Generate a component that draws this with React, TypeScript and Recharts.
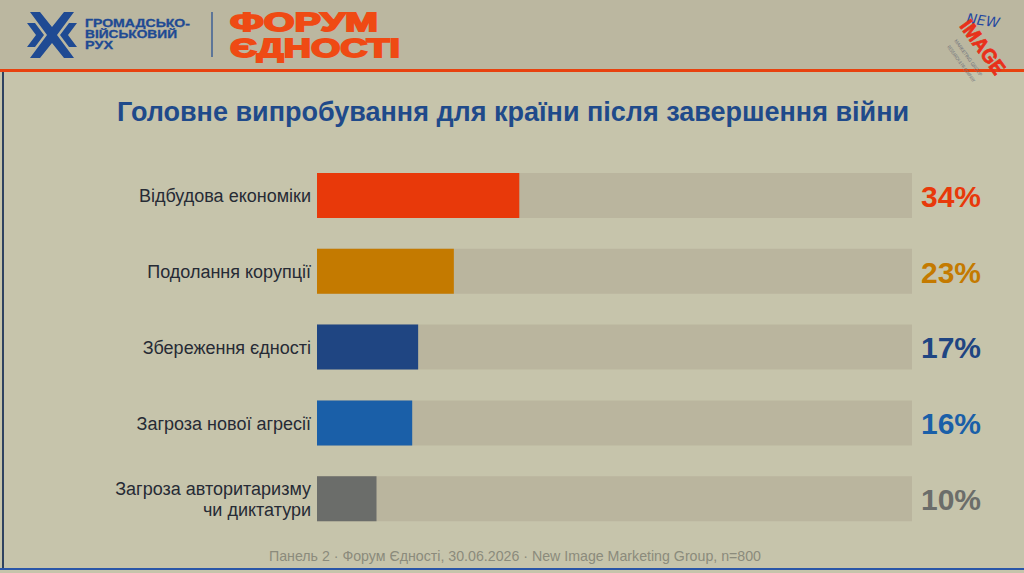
import { BarChart, Bar, XAxis, YAxis, Cell } from "recharts";

// survey answers, share of respondents (%)
const CATEGORIES = [
  "Відбудова економіки",
  "Подолання корупції",
  "Збереження єдності",
  "Загроза нової агресії",
  "Загроза авторитаризму\nчи диктатури",
];
const VALUES = [34, 23, 17, 16, 10];
const BAR_COLORS = ["#e8390a", "#c47a00", "#1f4582", "#1a5fa8", "#6b6d6a"];
const LABEL_COLORS = ["#e8390a", "#c47a00", "#1f4582", "#1a5fa8", "#6b6d6a"];

const TITLE = "Головне випробування для країни після завершення війни";
const FOOTER =
  "Панель 2 · Форум Єдності, 30.06.2026 · New Image Marketing Group, n=800";

const FONT = "'Liberation Sans', Arial, sans-serif";

const data = CATEGORIES.map((name, i) => ({ name, value: VALUES[i] }));

function CategoryTick(props: any) {
  const { x, y, payload } = props;
  const lines = String(payload.value).split("\n");
  const lh = 21;
  const y0 = y - ((lines.length - 1) * lh) / 2;
  return (
    <text textAnchor="end" fill="#262b35" fontSize={18} fontFamily={FONT}>
      {lines.map((l, i) => (
        <tspan key={i} x={x} y={y0 + i * lh} dy="0.36em">
          {l}
        </tspan>
      ))}
    </text>
  );
}

function ValueTick(props: any) {
  const { x, y, payload } = props;
  const i = CATEGORIES.indexOf(payload.value);
  return (
    <text
      x={x}
      y={y}
      dy="0.36em"
      textAnchor="start"
      fill={LABEL_COLORS[i]}
      fontSize={30}
      fontWeight="bold"
      fontFamily={FONT}
    >
      {`${VALUES[i]}%`}
    </text>
  );
}

function Header() {
  return (
    <svg width={1024} height={100} style={{ position: "absolute", left: 0, top: 0 }}>
      <rect x={0} y={0} width={1024} height={69} fill="#bbb7a0" />
      <rect x={0} y={69} width={1024} height={3} fill="#e8420f" />
      {/* emblem */}
      <g fill="#1f4a93">
        <polygon points="30,12 40,12 52,27 64,12 74,12 57,35 74,58 64,58 52,43 40,58 30,58 47,35" />
        <polygon points="27,23 35,23 44,35 35,47 27,47 36,35" />
        <polygon points="77,23 69,23 60,35 69,47 77,47 68,35" />
      </g>
      <g fill="#1f4a93" stroke="#1f4a93" strokeWidth={0.3} fontFamily={FONT} fontWeight="bold" fontSize={10.5}>
        <text x={85} y={27} textLength={105} lengthAdjust="spacingAndGlyphs">ГРОМАДСЬКО-</text>
        <text x={85} y={38} textLength={92} lengthAdjust="spacingAndGlyphs">ВІЙСЬКОВИЙ</text>
        <text x={85} y={49} textLength={28} lengthAdjust="spacingAndGlyphs">РУХ</text>
      </g>
      <line x1={212} y1={12} x2={212} y2={57} stroke="#1f4a93" strokeWidth={1.2} />
      <g
        fill="#ef4a14"
        stroke="#ef4a14"
        strokeWidth={1.8}
        fontFamily={FONT}
        fontWeight="900"
        fontSize={26.5}
      >
        <text x={230} y={31} textLength={148} lengthAdjust="spacingAndGlyphs">ФОРУМ</text>
        <text x={230} y={57} textLength={170} lengthAdjust="spacingAndGlyphs">ЄДНОСТІ</text>
      </g>
      {/* right logo */}
      <text
        x={966}
        y={23}
        fill="#2448a0"
        fontFamily="'DejaVu Sans', sans-serif"
        fontStyle="italic"
        fontSize={14}
        transform="rotate(8 966 23)"
      >
        NEW
      </text>
      <text
        x={959}
        y={26}
        fill="#e8301a"
        stroke="#e8301a"
        strokeWidth={0.8}
        fontFamily={FONT}
        fontWeight="900"
        fontSize={20}
        textLength={62}
        lengthAdjust="spacingAndGlyphs"
        transform="rotate(54 959 26)"
      >
        IMAGE
      </text>
      <text
        x={954}
        y={41}
        fill="#6b6f7a"
        fontFamily={FONT}
        fontSize={5}
        textLength={44}
        lengthAdjust="spacingAndGlyphs"
        transform="rotate(54 954 41)"
      >
        MARKETING GROUP
      </text>
      <text
        x={947}
        y={47}
        fill="#6b6f7a"
        fontFamily={FONT}
        fontSize={5}
        textLength={44}
        lengthAdjust="spacingAndGlyphs"
        transform="rotate(54 947 47)"
      >
        RESEARCH &amp; PR COMPANY
      </text>
    </svg>
  );
}

export default function App() {
  return (
    <div
      style={{
        position: "absolute",
        left: 0,
        top: 0,
        width: 1024,
        height: 573,
        background: "#c6c4ab",
        overflow: "hidden",
        fontFamily: FONT,
      }}
    >
      <Header />
      {/* frame */}
      <div style={{ position: "absolute", left: 2, top: 72, width: 2, height: 498, background: "#2e4260" }} />
      <div style={{ position: "absolute", left: 0, top: 568, width: 1024, height: 2, background: "#2a56a8" }} />

      <div
        style={{
          position: "absolute",
          left: 0,
          top: 97,
          width: 1026,
          textAlign: "center",
          fontSize: 27,
          fontWeight: "bold",
          color: "#1f4a8a",
        }}
      >
        {TITLE}
      </div>

      <div style={{ position: "absolute", left: 0, top: 158 }}>
        <BarChart
          width={1024}
          height={379}
          data={data}
          layout="vertical"
          margin={{ top: 0, right: 0, bottom: 0, left: 0 }}
          barCategoryGap={30}
        >
          <XAxis type="number" domain={[0, 100]} hide />
          <YAxis
            yAxisId="left"
            type="category"
            dataKey="name"
            width={317}
            axisLine={false}
            tickLine={false}
            tickSize={0}
            tickMargin={6}
            tick={<CategoryTick />}
            interval={0}
          />
          <YAxis
            yAxisId="right"
            orientation="right"
            type="category"
            dataKey="name"
            width={112}
            axisLine={false}
            tickLine={false}
            tickSize={0}
            tickMargin={9}
            tick={<ValueTick />}
            interval={0}
          />
          <Bar
            yAxisId="left"
            dataKey="value"
            barSize={45}
            background={{ fill: "#bab59e" }}
            isAnimationActive={false}
          >
            {data.map((d, i) => (
              <Cell key={d.name} fill={BAR_COLORS[i]} />
            ))}
          </Bar>
        </BarChart>
      </div>

      <div
        style={{
          position: "absolute",
          left: 0,
          top: 548,
          width: 1030,
          textAlign: "center",
          fontSize: 14.2,
          color: "#8b8b7c",
        }}
      >
        {FOOTER}
      </div>
    </div>
  );
}
